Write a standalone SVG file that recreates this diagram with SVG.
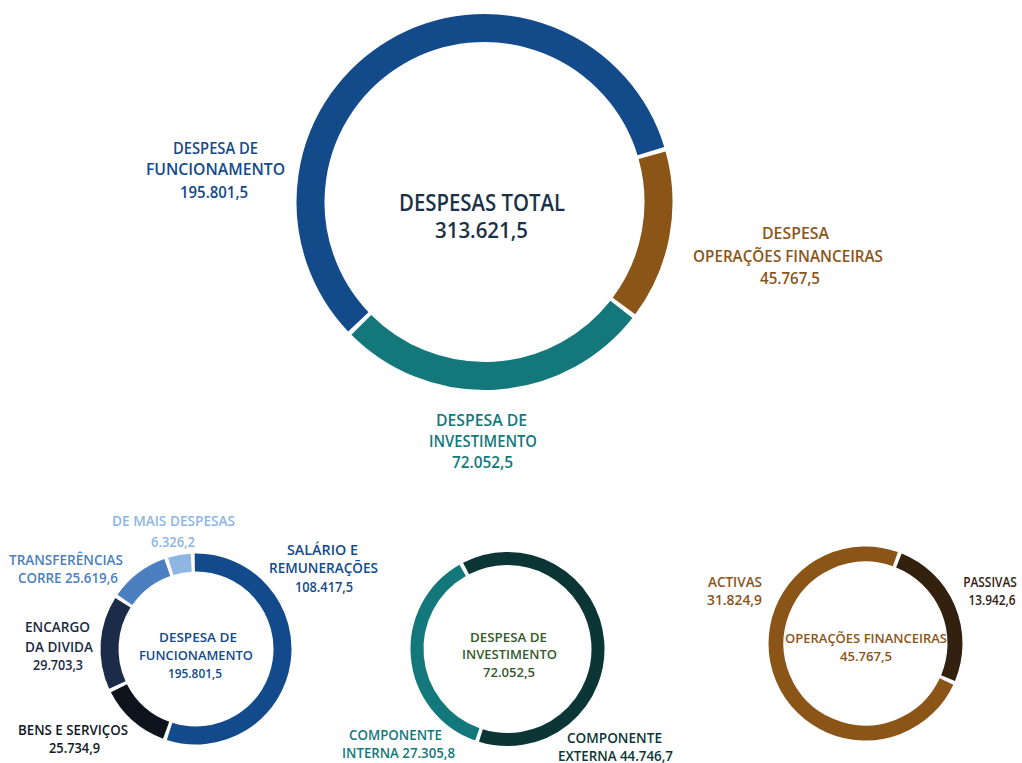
<svg xmlns="http://www.w3.org/2000/svg" width="1022" height="763" viewBox="0 0 1022 763">
<style>
  text { font-family: "Open Sans", "Liberation Sans", sans-serif; font-weight: 600; text-anchor: middle; }
  .ring { fill: none; stroke-linecap: butt; }
  .lg { font-size: 17px; }
  .lg2 { font-size: 16px; }
  .xl { font-size: 24px; }
  .xl2 { font-size: 21px; }
  .md { font-size: 14.5px; }
  .sm { font-size: 13px; }
  .blue { fill: #134a8b; }
  .orange { fill: #8b5518; }
  .teal { fill: #13787c; }
  .dark { fill: #1b3148; }
  .light { fill: #8db6e3; }
  .mid { fill: #4b7fbf; }
  .navy { fill: #1c2b47; }
  .black { fill: #111823; }
  .green { fill: #355a2a; }
  .deep { fill: #0c3636; }
  .brown { fill: #33210f; }
</style>
<rect width="1022" height="763" fill="#ffffff"/>

<g id="connectors"></g>

<g id="total">
  <path class="ring" stroke="#124a8a" stroke-width="28" d="M358.3,321.8 A174,174 0 1 1 650.9,151.1"/>
  <path class="ring" stroke="#8b5518" stroke-width="28" d="M652.1,155.2 A174,174 0 0 1 624.0,306.0"/>
  <path class="ring" stroke="#13777b" stroke-width="28" d="M621.4,309.4 A174,174 0 0 1 361.3,324.8"/>
  <text class="xl dark" x="482" y="211" textLength="166" lengthAdjust="spacingAndGlyphs">DESPESAS TOTAL</text>
  <text class="xl2 dark" x="481.5" y="238" textLength="93" lengthAdjust="spacingAndGlyphs">313.621,5</text>
</g>

<g id="label-funcionamento">
  <text class="lg blue" x="215.5" y="154" textLength="85" lengthAdjust="spacingAndGlyphs">DESPESA DE</text>
  <text class="lg blue" x="215.5" y="175" textLength="139" lengthAdjust="spacingAndGlyphs">FUNCIONAMENTO</text>
  <text class="lg blue" x="214" y="198" textLength="68" lengthAdjust="spacingAndGlyphs">195.801,5</text>
</g>

<g id="label-operacoes">
  <text class="lg orange" x="795.5" y="239" textLength="67" lengthAdjust="spacingAndGlyphs">DESPESA</text>
  <text class="lg orange" x="788" y="262" textLength="190" lengthAdjust="spacingAndGlyphs">OPERAÇÕES FINANCEIRAS</text>
  <text class="lg orange" x="790" y="284" textLength="60" lengthAdjust="spacingAndGlyphs">45.767,5</text>
</g>

<g id="label-investimento">
  <text class="lg2 teal" x="481.5" y="426" textLength="91" lengthAdjust="spacingAndGlyphs">DESPESA DE</text>
  <text class="lg2 teal" x="483" y="447" textLength="108" lengthAdjust="spacingAndGlyphs">INVESTIMENTO</text>
  <text class="lg2 teal" x="482.5" y="468" textLength="61" lengthAdjust="spacingAndGlyphs">72.052,5</text>
</g>

<g id="funcionamento">
  <path class="ring" stroke="#134a8b" stroke-width="18" d="M194.79,562.51 A86.5,86.5 0 1 1 169.56,731.36"/>
  <path class="ring" stroke="#0d141d" stroke-width="18" d="M166.13,730.18 A86.5,86.5 0 0 1 118.93,688.27"/>
  <path class="ring" stroke="#1c2b47" stroke-width="18" d="M117.35,685.01 A86.5,86.5 0 0 1 122.88,602.77"/>
  <path class="ring" stroke="#4b7fbf" stroke-width="18" d="M124.89,599.76 A86.5,86.5 0 0 1 167.26,567.41"/>
  <path class="ring" stroke="#8db6e3" stroke-width="18" d="M170.71,566.28 A86.5,86.5 0 0 1 191.17,562.64"/>
  <text class="sm blue" x="198" y="642" textLength="78" lengthAdjust="spacingAndGlyphs">DESPESA DE</text>
  <text class="sm blue" x="196" y="660" textLength="114" lengthAdjust="spacingAndGlyphs">FUNCIONAMENTO</text>
  <text class="sm blue" x="195" y="678" textLength="54" lengthAdjust="spacingAndGlyphs">195.801,5</text>
</g>

<g id="label-demais">
  <text class="md light" x="173.5" y="526" textLength="123" lengthAdjust="spacingAndGlyphs">DE MAIS DESPESAS</text>
  <text class="md light" x="173" y="547" textLength="44" lengthAdjust="spacingAndGlyphs">6.326,2</text>
</g>
<g id="label-transferencias">
  <text class="md mid" x="66" y="565" textLength="114" lengthAdjust="spacingAndGlyphs">TRANSFERÊNCIAS</text>
  <text class="md mid" x="68" y="583" textLength="100" lengthAdjust="spacingAndGlyphs">CORRE 25.619,6</text>
</g>
<g id="label-salario">
  <text class="md blue" x="322.5" y="555" textLength="71" lengthAdjust="spacingAndGlyphs">SALÁRIO E</text>
  <text class="md blue" x="323.5" y="573" textLength="109" lengthAdjust="spacingAndGlyphs">REMUNERAÇÕES</text>
  <text class="md blue" x="324" y="592" textLength="58" lengthAdjust="spacingAndGlyphs">108.417,5</text>
</g>
<g id="label-encargo">
  <text class="md navy" x="57.5" y="632" textLength="65" lengthAdjust="spacingAndGlyphs">ENCARGO</text>
  <text class="md navy" x="59" y="652" textLength="68" lengthAdjust="spacingAndGlyphs">DA DIVIDA</text>
  <text class="md navy" x="58" y="670" textLength="50" lengthAdjust="spacingAndGlyphs">29.703,3</text>
</g>
<g id="label-bens">
  <text class="md black" x="73" y="735" textLength="110" lengthAdjust="spacingAndGlyphs">BENS E SERVIÇOS</text>
  <text class="md black" x="74.5" y="753" textLength="51" lengthAdjust="spacingAndGlyphs">25.734,9</text>
</g>

<g id="investimento">
  <path class="ring" stroke="#0c3636" stroke-width="13" d="M466.00,568.58 A90.5,90.5 0 1 1 480.89,735.50"/>
  <path class="ring" stroke="#13787c" stroke-width="13" d="M477.29,734.31 A90.5,90.5 0 0 1 462.66,570.39"/>
  <text class="sm green" x="508.5" y="642" textLength="77" lengthAdjust="spacingAndGlyphs">DESPESA DE</text>
  <text class="sm green" x="509.5" y="659" textLength="95" lengthAdjust="spacingAndGlyphs">INVESTIMENTO</text>
  <text class="sm green" x="509" y="677" textLength="52" lengthAdjust="spacingAndGlyphs">72.052,5</text>
</g>
<g id="label-interna">
  <text class="md teal" x="395.5" y="740" textLength="93" lengthAdjust="spacingAndGlyphs">COMPONENTE</text>
  <text class="md teal" x="398.5" y="758" textLength="113" lengthAdjust="spacingAndGlyphs">INTERNA 27.305,8</text>
</g>
<g id="label-externa">
  <text class="md deep" x="614.5" y="743" textLength="95" lengthAdjust="spacingAndGlyphs">COMPONENTE</text>
  <text class="md deep" x="615.5" y="761" textLength="115" lengthAdjust="spacingAndGlyphs">EXTERNA 44.746,7</text>
</g>

<g id="operacoes">
  <path class="ring" stroke="#33210f" stroke-width="15" d="M898.88,560.46 A89.5,89.5 0 0 1 948.06,678.04"/>
  <path class="ring" stroke="#8b5518" stroke-width="15" d="M946.55,681.47 A89.5,89.5 0 1 1 895.38,559.14"/>
  <text class="sm orange" x="866" y="643" textLength="162" lengthAdjust="spacingAndGlyphs">OPERAÇÕES FINANCEIRAS</text>
  <text class="sm orange" x="866" y="661" textLength="52" lengthAdjust="spacingAndGlyphs">45.767,5</text>
</g>
<g id="label-activas">
  <text class="md orange" x="735" y="587" textLength="54" lengthAdjust="spacingAndGlyphs">ACTIVAS</text>
  <text class="md orange" x="734.5" y="605" textLength="55" lengthAdjust="spacingAndGlyphs">31.824,9</text>
</g>
<g id="label-passivas">
  <g transform="translate(990,587) scale(0.82,1)">
    <text class="md brown" x="0" y="0">PASSIVAS</text>
  </g>
  <g transform="translate(992,605) scale(0.82,1)">
    <text class="md brown" x="0" y="0">13.942,6</text>
  </g>
</g>
</svg>
